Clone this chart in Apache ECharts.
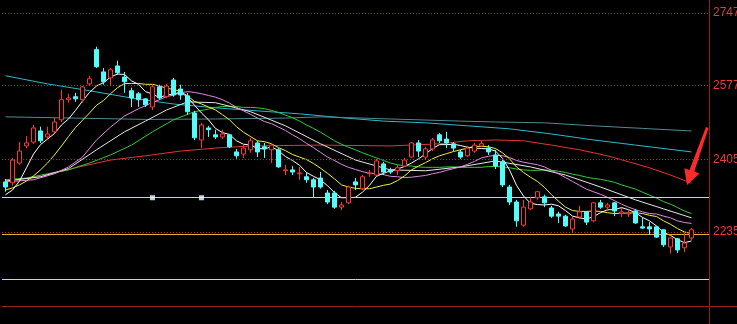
<!DOCTYPE html>
<html><head><meta charset="utf-8">
<script src="https://cdn.jsdelivr.net/npm/echarts@6/dist/echarts.min.js"></script>
<style>html,body{margin:0;padding:0;background:#000;overflow:hidden}#c{width:737px;height:324px}</style>
</head><body><div id="c"></div>
<script>
// ---- data ----
const tickLabels = [2747, 2577, 2405, 2235];
const levelLines = [2315, 2230, 2125];           // horizontal yellow lines
const levelColors = ['#eded00', '#e0b030', '#eded00'];
const markerPoints = [[21, 2315], [28, 2315]];   // white squares on the upper level line
const categories = Array.from({length: 101}, (_, i) => 'D' + (i + 1));
// [open, close, low, high]
const candles = [
[2352,2340,2329,2359],[2350,2403,2343,2408],[2396,2424,2392,2445],[2436,2443,2431,2459],[2445,2478,2441,2485],
[2471,2448,2443,2481],[2457,2464,2450,2481],[2469,2492,2466,2502],[2497,2544,2492,2567],[2544,2548,2537,2558],
[2551,2546,2539,2560],[2544,2574,2537,2576],[2581,2593,2576,2600],[2661,2621,2618,2668],[2609,2586,2579,2618],
[2595,2614,2576,2618],[2623,2607,2602,2635],[2597,2586,2560,2609],[2565,2548,2527,2572],[2558,2544,2527,2562],
[2546,2532,2527,2548],[2527,2574,2520,2579],[2574,2548,2544,2579],[2551,2576,2548,2581],[2590,2555,2551,2595],
[2569,2555,2544,2579],[2553,2516,2509,2560],[2513,2455,2450,2518],[2450,2485,2431,2490],[2478,2474,2457,2483],
[2462,2457,2452,2474],[2457,2464,2452,2474],[2462,2434,2431,2464],[2422,2413,2406,2429],[2417,2431,2408,2438],
[2427,2448,2420,2455],[2443,2422,2410,2448],[2434,2429,2408,2443],[2427,2438,2396,2443],[2427,2387,2385,2431],
[2378,2380,2368,2392],[2380,2375,2368,2389],[2371,2373,2357,2387],[2364,2357,2350,2375],[2357,2340,2315,2361],
[2361,2340,2336,2375],[2326,2305,2300,2333],[2326,2293,2289,2331],[2293,2298,2286,2305],[2303,2340,2300,2343],
[2352,2345,2333,2361],[2336,2364,2333,2368],[2371,2373,2364,2380],[2368,2401,2366,2406],[2394,2375,2368,2399],
[2380,2375,2371,2385],[2378,2385,2368,2392],[2389,2403,2387,2408],[2410,2443,2408,2445],[2443,2424,2410,2450],
[2410,2429,2403,2434],[2429,2450,2424,2455],[2462,2448,2443,2466],[2452,2443,2431,2469],[2441,2431,2424,2445],
[2422,2410,2406,2427],[2413,2431,2410,2436],[2424,2438,2420,2443],[2436,2441,2434,2448],[2431,2422,2415,2438],
[2415,2389,2382,2427],[2399,2345,2340,2403],[2340,2305,2298,2345],[2305,2261,2247,2310],[2251,2293,2247,2310],
[2289,2305,2286,2317],[2315,2329,2310,2331],[2317,2303,2293,2322],[2291,2272,2268,2296],[2277,2272,2256,2282],
[2272,2249,2247,2275],[2242,2265,2233,2270],[2270,2282,2265,2296],[2282,2258,2251,2284],[2261,2303,2258,2305],
[2303,2293,2289,2310],[2293,2298,2284,2303],[2303,2284,2272,2305],[2279,2282,2270,2291],[2277,2279,2270,2286],
[2284,2256,2254,2289],[2247,2244,2242,2270],[2247,2242,2228,2258],[2247,2223,2221,2249],[2240,2205,2200,2242],
[2200,2221,2184,2223],[2219,2193,2186,2221],[2198,2209,2188,2233],[2221,2240,2216,2244]
];
const ma5 = [2322,2333,2354,2385,2417,2439,2452,2465,2485,2499,
2519,2541,2561,2576,2584,2597,2604,2603,2588,2580,
2563,2557,2549,2555,2557,2562,2550,2531,2513,2497,
2477,2467,2463,2448,2440,2438,2430,2429,2434,2425,
2411,2402,2391,2374,2365,2357,2343,2327,2315,2315,
2316,2328,2344,2365,2372,2378,2382,2388,2396,2406,
2417,2430,2439,2439,2440,2437,2433,2431,2430,2429,
2424,2407,2380,2344,2319,2302,2299,2298,2300,2296,
2285,2272,2268,2265,2271,2280,2287,2287,2292,2287,
2280,2269,2261,2249,2234,2227,2217,2210,2214];
const ma10 = [2333,2338,2345,2354,2366,2380,2396,2415,2436,2458,
2479,2496,2513,2531,2542,2558,2572,2582,2582,2582,
2580,2580,2576,2571,2568,2563,2553,2540,2534,2527,
2520,2509,2497,2481,2468,2458,2448,2446,2441,2432,
2425,2416,2410,2404,2395,2384,2372,2359,2345,2340,
2337,2336,2336,2340,2344,2347,2355,2366,2380,2389,
2397,2406,2413,2418,2423,2427,2431,2435,2435,2434,
2430,2420,2406,2387,2374,2363,2353,2339,2322,2307,
2293,2285,2283,2283,2284,2283,2280,2278,2279,2279,
2280,2278,2274,2271,2261,2253,2243,2235,2231];
const ma20Head = [[0,2352],[4,2357],[7,2371],[9,2387],[11,2410],[13,2450],[15,2480],[17,2506],[19,2523]];
const ma20Tail = [2530,2538,2544,2551,2555,2560,2563,2561,2558,2554,
2550,2544,2536,2526,2518,2510,2501,2493,2488,2480,
2472,2462,2453,2442,2432,2421,2410,2402,2393,2386,
2381,2376,2372,2372,2369,2365,2364,2362,2363,2365,
2367,2371,2374,2379,2383,2387,2393,2400,2408,2412,
2414,2413,2409,2402,2398,2395,2392,2387,2379,2371,
2362,2353,2344,2335,2329,2323,2316,2308,2300,2293,
2287,2282,2278,2277,2272,2268,2261,2257,2255]; // from index 20
const ma30Head = [[0,2357],[3,2361],[6,2371],[9,2380],[12,2396],[15,2415],[18,2438],[21,2469],[24,2497],[27,2516]];
const ma30Tail = [2522,2526,2528,2529,2528,2526,2526,2525,2523,2519,
2514,2508,2502,2494,2485,2477,2468,2458,2448,2440,
2433,2427,2420,2414,2408,2402,2396,2392,2390,2389,
2387,2386,2386,2386,2387,2387,2386,2386,2386,2386,
2388,2388,2387,2385,2382,2380,2379,2379,2380,2379,
2377,2374,2370,2367,2363,2360,2358,2355,2351,2345,
2340,2335,2328,2321,2314,2306,2300,2292,2284,2278]; // from index 29
const whiteMidPts = [[0,2354],[5,2364],[9,2383],[13,2427],[17,2469],[20,2494],[23,2520],[26,2539],[30,2537],[35,2516],
[40,2483],[45,2441],[50,2403],[55,2380],[60,2378],[65,2387],[70,2401],[75,2387],[80,2368],[85,2340],[90,2310],[94,2289],[98,2268]];
const redPts = [[0,2354],[5,2364],[10,2385],[15,2403],[20,2413],[25,2424],[30,2431],[35,2436],[45,2438],[55,2436],
[62,2441],[66,2448],[70,2450],[74,2448],[78,2438],[82,2427],[86,2413],[89,2399],[92,2385],[95,2368],[98,2349]];
const cyanPts = [[0,2600],[6,2581],[12,2565],[18,2548],[24,2534],[30,2525],[36,2518],[42,2511],[48,2502],[54,2494],
[60,2490],[66,2483],[72,2476],[78,2464],[84,2450],[90,2438],[98,2422]];
const grayPts = [[0,2504],[10,2501],[20,2498],[30,2499],[40,2501],[45,2504],[55,2499],[65,2494],[70,2492],[77,2490],
[84,2483],[91,2477],[98,2471]];

// ---- build ----
const ma20 = ma20Head.concat(ma20Tail.map((v, k) => [20 + k, v]));
const ma30 = ma30Head.concat(ma30Tail.map((v, k) => [29 + k, v]));
function line(name, data, color, z) {
  return {name, type: 'line', data, showSymbol: false, symbol: 'none', connectNulls: true,
    lineStyle: {color, width: 1}, itemStyle: {color}, z: z || 3, silent: true};
}
function hLine(value, color, type, z) {
  return {type: 'line', data: [], silent: true, z, color: color,
    markLine: {symbol: 'none', silent: true, label: {show: false}, animation: false,
      emphasis: {disabled: true},
      data: [{yAxis: value, lineStyle: {color: color, type: type, width: 1, opacity: 1}}]}};
}
const axisRed = '#9a1c1c';
const chart = echarts.init(document.getElementById('c'), null, {renderer: 'canvas'});
chart.setOption({
  backgroundColor: '#000',
  animation: false,
  grid: {left: 2, right: 28, top: 0, bottom: 18, containLabel: false, outerBoundsMode: 'none'},
  xAxis: {type: 'category', data: categories, boundaryGap: true,
    axisLine: {show: true, lineStyle: {color: axisRed, width: 1}},
    axisTick: {show: false}, axisLabel: {show: false}, splitLine: {show: false}},
  yAxis: {type: 'value', position: 'right', min: 2062, max: 2777, scale: true,
    axisLine: {show: true, lineStyle: {color: axisRed, width: 1}},
    axisTick: {show: false}, splitLine: {show: false},
    axisLabel: {customValues: tickLabels, formatter: v => String(Math.round(v)), color: '#e83a3a', fontSize: 12, margin: 4,
      fontFamily: 'Liberation Sans, Arial, sans-serif'}},
  series: [
    ...tickLabels.map(v => hLine(v, '#b82424', [1, 2], 1)),
    ...levelLines.map((v, k) => hLine(v, levelColors[k], 'solid', 2)),
    line('cyan', cyanPts, '#2fb8cc', 3),
    line('gray', grayPts, '#4f8a92', 3),
    line('red', redPts, '#e83434', 3),
    line('ma30', ma30, '#33cc33', 3),
    line('mid', whiteMidPts, '#e6e6e6', 3),
    line('ma20', ma20, '#e487e4', 3),
    line('ma10', ma10, '#f0f040', 4),
    line('ma5', ma5, '#ffffff', 4),
    {type: 'candlestick', data: candles, barWidth: 5, z: 5, silent: true,
      itemStyle: {color: '#000', color0: '#54fcfc', borderColor: '#ff3434', borderColor0: '#54fcfc', borderWidth: 1}},
    {type: 'scatter', data: markerPoints, symbol: 'rect', symbolSize: 5, z: 6, silent: true,
      itemStyle: {color: '#ffffff'}}
  ],
  graphic: [
    {type: 'line', shape: {x1: 709, y1: 306.5, x2: 737, y2: 306.5}, style: {stroke: axisRed, lineWidth: 1}, silent: true},
    {type: 'line', shape: {x1: 709.5, y1: 306, x2: 709.5, y2: 324}, style: {stroke: axisRed, lineWidth: 1}, silent: true},
    {type: 'polygon', shape: {points: [[706,127],[708.5,128],[694.3,171.6],[699.5,173.4],[687,185],[684.3,168.2],[689.5,170]]},
      style: {fill: '#ff2a2a'}, silent: true, z: 10}
  ]
});
</script></body></html>
